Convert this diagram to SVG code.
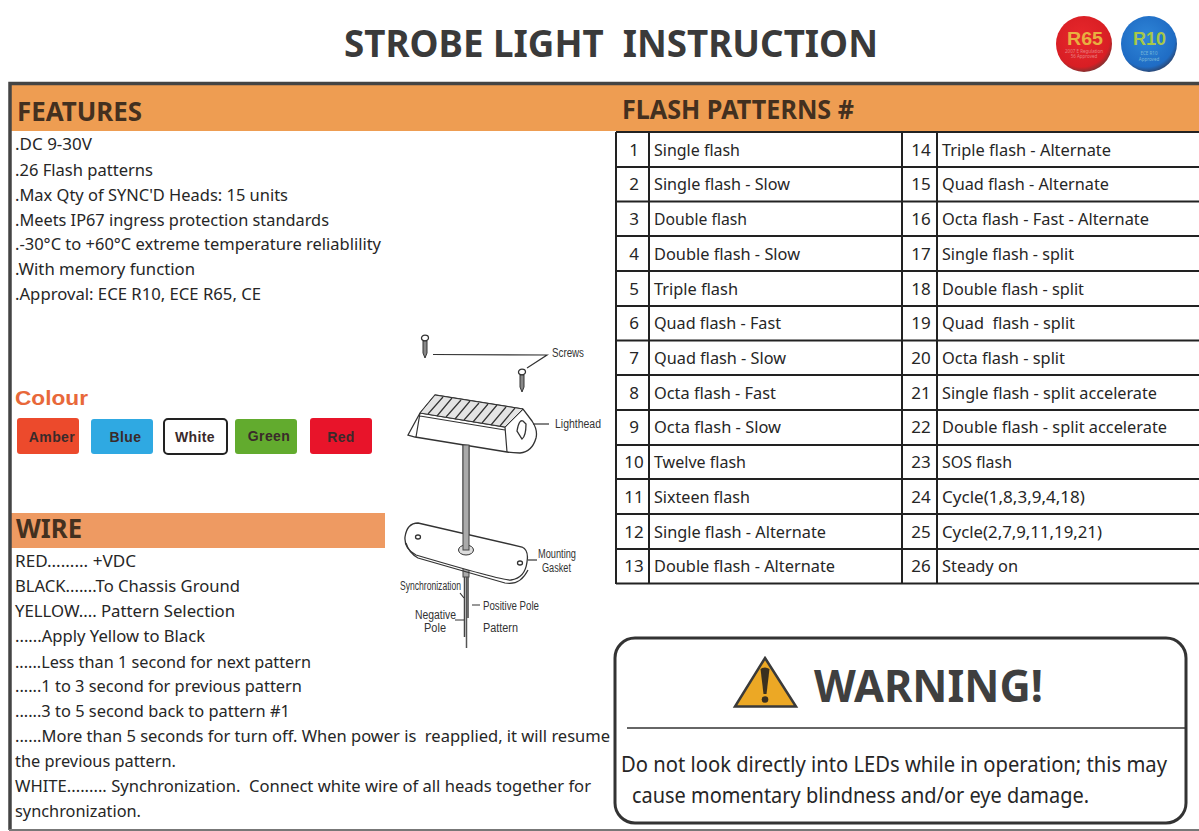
<svg xmlns="http://www.w3.org/2000/svg" width="1199" height="831" viewBox="0 0 1199 831">
<style>
text{font-family:"Noto Sans","Open Sans","Liberation Sans",sans-serif;fill:#262626}
.b{font-size:16.5px}
.t{font-size:17px}
.n{text-anchor:middle;font-size:17px}
.h{font-weight:700;font-size:26px;fill:#43301f}
.lab{font-family:"Liberation Sans",Arial,sans-serif;font-size:12px;fill:#333}
.sw{font-family:"Liberation Sans",Arial,sans-serif;font-weight:700;font-size:14px;letter-spacing:.4px;text-anchor:middle;fill:#3a2a2a}
.grid{stroke:#222;stroke-width:2;fill:none}
.ln{stroke:#333;stroke-width:1.2;fill:none}
.dev{stroke:#333;stroke-width:1.3;fill:#fff}
</style>
<defs>
<radialGradient id="rd" cx=".45" cy=".4" r=".6"><stop offset="0" stop-color="#e8282c"/><stop offset=".85" stop-color="#d81e24"/><stop offset="1" stop-color="#8a3030"/></radialGradient>
<radialGradient id="bl" cx=".45" cy=".4" r=".6"><stop offset="0" stop-color="#2f86d8"/><stop offset=".85" stop-color="#1f6cc4"/><stop offset="1" stop-color="#2a4a7a"/></radialGradient>
<g id="screw"><ellipse cx="0" cy="0" rx="3.500" ry="2.800" class="dev"/><path d="M-2 3V15L0 20L2 15V3Z" fill="#888" stroke="#333" stroke-width="1"/></g>
</defs>
<rect width="1199" height="831" fill="#fff"/>

<g id="title"><text x="611" y="57" text-anchor="middle" font-size="38" font-weight="700" style="fill:#3a3a3a" textLength="534" lengthAdjust="spacingAndGlyphs" xml:space="preserve">STROBE LIGHT  INSTRUCTION</text></g>

<g id="badges">
<circle cx="1084" cy="44" r="28" fill="url(#rd)"/>
<text x="1085" y="45" text-anchor="middle" font-size="18" font-weight="700" style="font-family:'Liberation Sans',sans-serif;fill:#e8b040" textLength="36" lengthAdjust="spacingAndGlyphs">R65</text>
<text x="1084" y="53" text-anchor="middle" font-size="4.500" style="fill:#e88080">2007 E Regulation</text>
<text x="1084" y="58" text-anchor="middle" font-size="4.500" style="fill:#e88080">56 Approved</text>
<circle cx="1149" cy="44" r="28" fill="url(#bl)"/>
<text x="1149.500" y="45" text-anchor="middle" font-size="18" font-weight="700" style="font-family:'Liberation Sans',sans-serif;fill:#a8c848" textLength="33" lengthAdjust="spacingAndGlyphs">R10</text>
<text x="1149" y="55" text-anchor="middle" font-size="4.500" style="fill:#7ab8d8">ECE R10</text>
<text x="1149" y="61" text-anchor="middle" font-size="4.500" style="fill:#7ab8d8">Approved</text>
</g>

<g id="features">
<rect x="10" y="85" width="1189" height="46" fill="#ee9d52"/>
<text class="h" x="17" y="121" textLength="125" lengthAdjust="spacingAndGlyphs">FEATURES</text>
<text class="b" x="15" y="150" textLength="77" lengthAdjust="spacingAndGlyphs">.DC 9-30V</text>
<text class="b" x="15" y="176" textLength="138" lengthAdjust="spacingAndGlyphs">.26 Flash patterns</text>
<text class="b" x="15" y="201" textLength="273" lengthAdjust="spacingAndGlyphs">.Max Qty of SYNC'D Heads: 15 units</text>
<text class="b" x="15" y="226" textLength="314" lengthAdjust="spacingAndGlyphs">.Meets IP67 ingress protection standards</text>
<text class="b" x="15" y="250" textLength="366" lengthAdjust="spacingAndGlyphs">.-30°C to +60°C extreme temperature reliablility</text>
<text class="b" x="15" y="275" textLength="180" lengthAdjust="spacingAndGlyphs">.With memory function</text>
<text class="b" x="15" y="300" textLength="246" lengthAdjust="spacingAndGlyphs">.Approval: ECE R10, ECE R65, CE</text>
</g>

<g id="colour">
<text x="15" y="405" font-size="21" font-weight="700" style="font-family:'Liberation Sans',sans-serif;fill:#e8683a" textLength="73" lengthAdjust="spacingAndGlyphs">Colour</text>
<rect x="17" y="418" width="62" height="36" rx="3" fill="#ec4a2c"/><text class="sw" x="52" y="442">Amber</text>
<rect x="91" y="419" width="62" height="35" rx="3" fill="#2fa9e2"/><text class="sw" x="125.500" y="442">Blue</text>
<rect x="164" y="419" width="63" height="35" rx="4" fill="#fff" stroke="#222" stroke-width="2"/><text class="sw" x="195" y="442">White</text>
<rect x="235" y="419" width="62" height="35" rx="3" fill="#62ab2e"/><text class="sw" x="269" y="441">Green</text>
<rect x="310" y="418" width="62" height="36" rx="3" fill="#e8142a"/><text class="sw" x="341" y="442">Red</text>
</g>

<g id="wire">
<rect x="10" y="513" width="375" height="35" fill="#ee9a62"/>
<text class="h" x="16" y="538" textLength="66" lengthAdjust="spacingAndGlyphs">WIRE</text>
<text class="b" x="15" y="567" textLength="121" lengthAdjust="spacingAndGlyphs">RED......... +VDC</text>
<text class="b" x="15" y="592" textLength="225" lengthAdjust="spacingAndGlyphs">BLACK.......To Chassis Ground</text>
<text class="b" x="15" y="617" textLength="220" lengthAdjust="spacingAndGlyphs">YELLOW.... Pattern Selection</text>
<text class="b" x="15" y="642" textLength="190" lengthAdjust="spacingAndGlyphs">......Apply Yellow to Black</text>
<text class="b" x="15" y="668" textLength="296" lengthAdjust="spacingAndGlyphs">......Less than 1 second for next pattern</text>
<text class="b" x="15" y="692" textLength="287" lengthAdjust="spacingAndGlyphs">......1 to 3 second for previous pattern</text>
<text class="b" x="15" y="717" textLength="275" lengthAdjust="spacingAndGlyphs">......3 to 5 second back to pattern #1</text>
<text class="b" x="15" y="742" textLength="595" lengthAdjust="spacingAndGlyphs" xml:space="preserve">......More than 5 seconds for turn off. When power is  reapplied, it will resume</text>
<text class="b" x="15" y="767" textLength="161" lengthAdjust="spacingAndGlyphs">the previous pattern.</text>
<text class="b" x="15" y="792" textLength="576" lengthAdjust="spacingAndGlyphs" xml:space="preserve">WHITE......... Synchronization.  Connect white wire of all heads together for</text>
<text class="b" x="15" y="817" textLength="126" lengthAdjust="spacingAndGlyphs">synchronization.</text>
</g>

<g id="frame">
<path d="M10 830V83.500H1199" fill="none" stroke="#444" stroke-width="3.500"/>
<path d="M9 830H1199" fill="none" stroke="#777" stroke-width="2"/>
</g>

<g id="exploded-view">
<use href="#screw" x="425" y="338"/>
<use href="#screw" x="522" y="372"/>
<path class="ln" d="M433 354.500L547 355L527 368"/>
<text class="lab" x="552" y="357" textLength="32" lengthAdjust="spacingAndGlyphs">Screws</text>
<rect x="463" y="445" width="6" height="132" fill="#aaa" stroke="#444" stroke-width="1"/>
<path class="dev" d="M408 435L420 413L435 395L523 409L532 421Q538 430 536 438Q532 452 520 453Q512 453 507 452L415 437Z"/>
<path class="ln" d="M420 413L505 427L523 409M420 416L505 430M505 427L507 452M420 413L416 437"/>
<path d="M435 395L523 409L505 427L420 413Z" fill="#e4e4e4" stroke="#333"/>
<path class="ln" d="M443 397L428 414M452 398L437 416M461 400L446 417M470 401L455 419M479 403L464 420M488 404L473 422M497 405L482 423M506 407L491 425M515 408L500 426"/>
<path class="dev" d="M517 431Q519 419 523 421L526 424Q526 436 522 439Z"/>
<path class="ln" d="M533 424H549"/>
<text class="lab" x="555" y="428" textLength="46" lengthAdjust="spacingAndGlyphs">Lighthead</text>
<path class="dev" d="M418 523L522 547Q529 550 527 562Q525 578 511 580Q504 581 416 555Q404 549 405 537Q407 523 418 523Z"/>
<path class="ln" d="M406 543Q409 553 418 558L505 583Q520 586 528 570"/>
<ellipse cx="466" cy="550" rx="7.500" ry="5" fill="#ddd" stroke="#333"/>
<rect x="463" y="445" width="6" height="105" fill="#aaa" stroke="#444" stroke-width="1"/>
<ellipse cx="418" cy="537" rx="2.500" ry="2" class="dev"/>
<ellipse cx="520" cy="563" rx="2.500" ry="2" class="dev"/>
<path class="ln" d="M528 560H537"/>
<text class="lab" x="538" y="558" textLength="38" lengthAdjust="spacingAndGlyphs">Mounting</text>
<text class="lab" x="542" y="572" textLength="29" lengthAdjust="spacingAndGlyphs">Gasket</text>
<path d="M464.500 577V637M468 577V618" fill="none" stroke="#444" stroke-width="1.500"/>
<path d="M466.500 577V648" fill="none" stroke="#555" stroke-width="1.500"/>
<path class="ln" d="M460 593L464 598M472 605H480M455 620H464"/>
<text class="lab" x="400" y="590" textLength="61" lengthAdjust="spacingAndGlyphs">Synchronization</text>
<text class="lab" x="483" y="610" textLength="56" lengthAdjust="spacingAndGlyphs">Positive Pole</text>
<text class="lab" x="415" y="619" textLength="41" lengthAdjust="spacingAndGlyphs">Negative</text>
<text class="lab" x="424" y="632" textLength="22" lengthAdjust="spacingAndGlyphs">Pole</text>
<text class="lab" x="483" y="632" textLength="35" lengthAdjust="spacingAndGlyphs">Pattern</text>
</g>

<g id="flash-patterns">
<text class="h" x="622" y="119" textLength="232" lengthAdjust="spacingAndGlyphs">FLASH PATTERNS #</text>
<path class="grid" d="M616 132H1199M616 167H1199M616 201.500H1199M616 236H1199M616 271H1199M616 306H1199M616 340.500H1199M616 375H1199M616 410H1199M616 445H1199M616 479H1199M616 514H1199M616 549H1199M616 583.500H1199M616 132V584M649 132V584M902 132V584M937 132V584"/>
<text class="n" x="634" y="156">1</text><text class="t" x="654" y="156" textLength="86" lengthAdjust="spacingAndGlyphs">Single flash</text>
<text class="n" x="634" y="190">2</text><text class="t" x="654" y="190" textLength="136" lengthAdjust="spacingAndGlyphs">Single flash - Slow</text>
<text class="n" x="634" y="225">3</text><text class="t" x="654" y="225" textLength="93" lengthAdjust="spacingAndGlyphs">Double flash</text>
<text class="n" x="634" y="260">4</text><text class="t" x="654" y="260" textLength="146" lengthAdjust="spacingAndGlyphs">Double flash - Slow</text>
<text class="n" x="634" y="295">5</text><text class="t" x="654" y="295" textLength="84" lengthAdjust="spacingAndGlyphs">Triple flash</text>
<text class="n" x="634" y="329">6</text><text class="t" x="654" y="329" textLength="127" lengthAdjust="spacingAndGlyphs">Quad flash - Fast</text>
<text class="n" x="634" y="364">7</text><text class="t" x="654" y="364" textLength="132" lengthAdjust="spacingAndGlyphs">Quad flash - Slow</text>
<text class="n" x="634" y="399">8</text><text class="t" x="654" y="399" textLength="122" lengthAdjust="spacingAndGlyphs">Octa flash - Fast</text>
<text class="n" x="634" y="433">9</text><text class="t" x="654" y="433" textLength="127" lengthAdjust="spacingAndGlyphs">Octa flash - Slow</text>
<text class="n" x="634" y="468">10</text><text class="t" x="654" y="468" textLength="92" lengthAdjust="spacingAndGlyphs">Twelve flash</text>
<text class="n" x="634" y="503">11</text><text class="t" x="654" y="503" textLength="96" lengthAdjust="spacingAndGlyphs">Sixteen flash</text>
<text class="n" x="634" y="538">12</text><text class="t" x="654" y="538" textLength="172" lengthAdjust="spacingAndGlyphs">Single flash - Alternate</text>
<text class="n" x="634" y="572">13</text><text class="t" x="654" y="572" textLength="181" lengthAdjust="spacingAndGlyphs">Double flash - Alternate</text>
<text class="n" x="921" y="156">14</text><text class="t" x="942" y="156" textLength="169" lengthAdjust="spacingAndGlyphs">Triple flash - Alternate</text>
<text class="n" x="921" y="190">15</text><text class="t" x="942" y="190" textLength="167" lengthAdjust="spacingAndGlyphs">Quad flash - Alternate</text>
<text class="n" x="921" y="225">16</text><text class="t" x="942" y="225" textLength="207" lengthAdjust="spacingAndGlyphs">Octa flash - Fast - Alternate</text>
<text class="n" x="921" y="260">17</text><text class="t" x="942" y="260" textLength="132" lengthAdjust="spacingAndGlyphs">Single flash - split</text>
<text class="n" x="921" y="295">18</text><text class="t" x="942" y="295" textLength="142" lengthAdjust="spacingAndGlyphs">Double flash - split</text>
<text class="n" x="921" y="329">19</text><text class="t" x="942" y="329" textLength="133" lengthAdjust="spacingAndGlyphs" xml:space="preserve">Quad  flash - split</text>
<text class="n" x="921" y="364">20</text><text class="t" x="942" y="364" textLength="123" lengthAdjust="spacingAndGlyphs">Octa flash - split</text>
<text class="n" x="921" y="399">21</text><text class="t" x="942" y="399" textLength="215" lengthAdjust="spacingAndGlyphs">Single flash - split accelerate</text>
<text class="n" x="921" y="433">22</text><text class="t" x="942" y="433" textLength="225" lengthAdjust="spacingAndGlyphs">Double flash - split accelerate</text>
<text class="n" x="921" y="468">23</text><text class="t" x="942" y="468" textLength="70" lengthAdjust="spacingAndGlyphs">SOS flash</text>
<text class="n" x="921" y="503">24</text><text class="t" x="942" y="503" textLength="143" lengthAdjust="spacingAndGlyphs">Cycle(1,8,3,9,4,18)</text>
<text class="n" x="921" y="538">25</text><text class="t" x="942" y="538" textLength="160" lengthAdjust="spacingAndGlyphs">Cycle(2,7,9,11,19,21)</text>
<text class="n" x="921" y="572">26</text><text class="t" x="942" y="572" textLength="76" lengthAdjust="spacingAndGlyphs">Steady on</text>
</g>

<g id="warning">
<rect x="615" y="638" width="571" height="185" rx="20" fill="#fff" stroke="#333" stroke-width="3"/>
<path d="M765 658L796 706.500H735Z" fill="#eca825" stroke="#3a3a3a" stroke-width="2.500"/>
<path d="M760.500 669Q765 666 769.500 669L766.500 694H763.500Z" fill="#3a3020"/><circle cx="765" cy="699.500" r="3.300" fill="#3a3020"/>
<text x="814" y="702" font-size="45" font-weight="700" style="fill:#3f3f3f" textLength="229" lengthAdjust="spacingAndGlyphs">WARNING!</text>
<path d="M627 728H1186" stroke="#333" stroke-width="1.500"/>
<text x="621" y="772" font-size="21" textLength="546" lengthAdjust="spacingAndGlyphs">Do not look directly into LEDs while in operation; this may</text>
<text x="632" y="803" font-size="21" textLength="457" lengthAdjust="spacingAndGlyphs">cause momentary blindness and/or eye damage.</text>
</g>
</svg>
